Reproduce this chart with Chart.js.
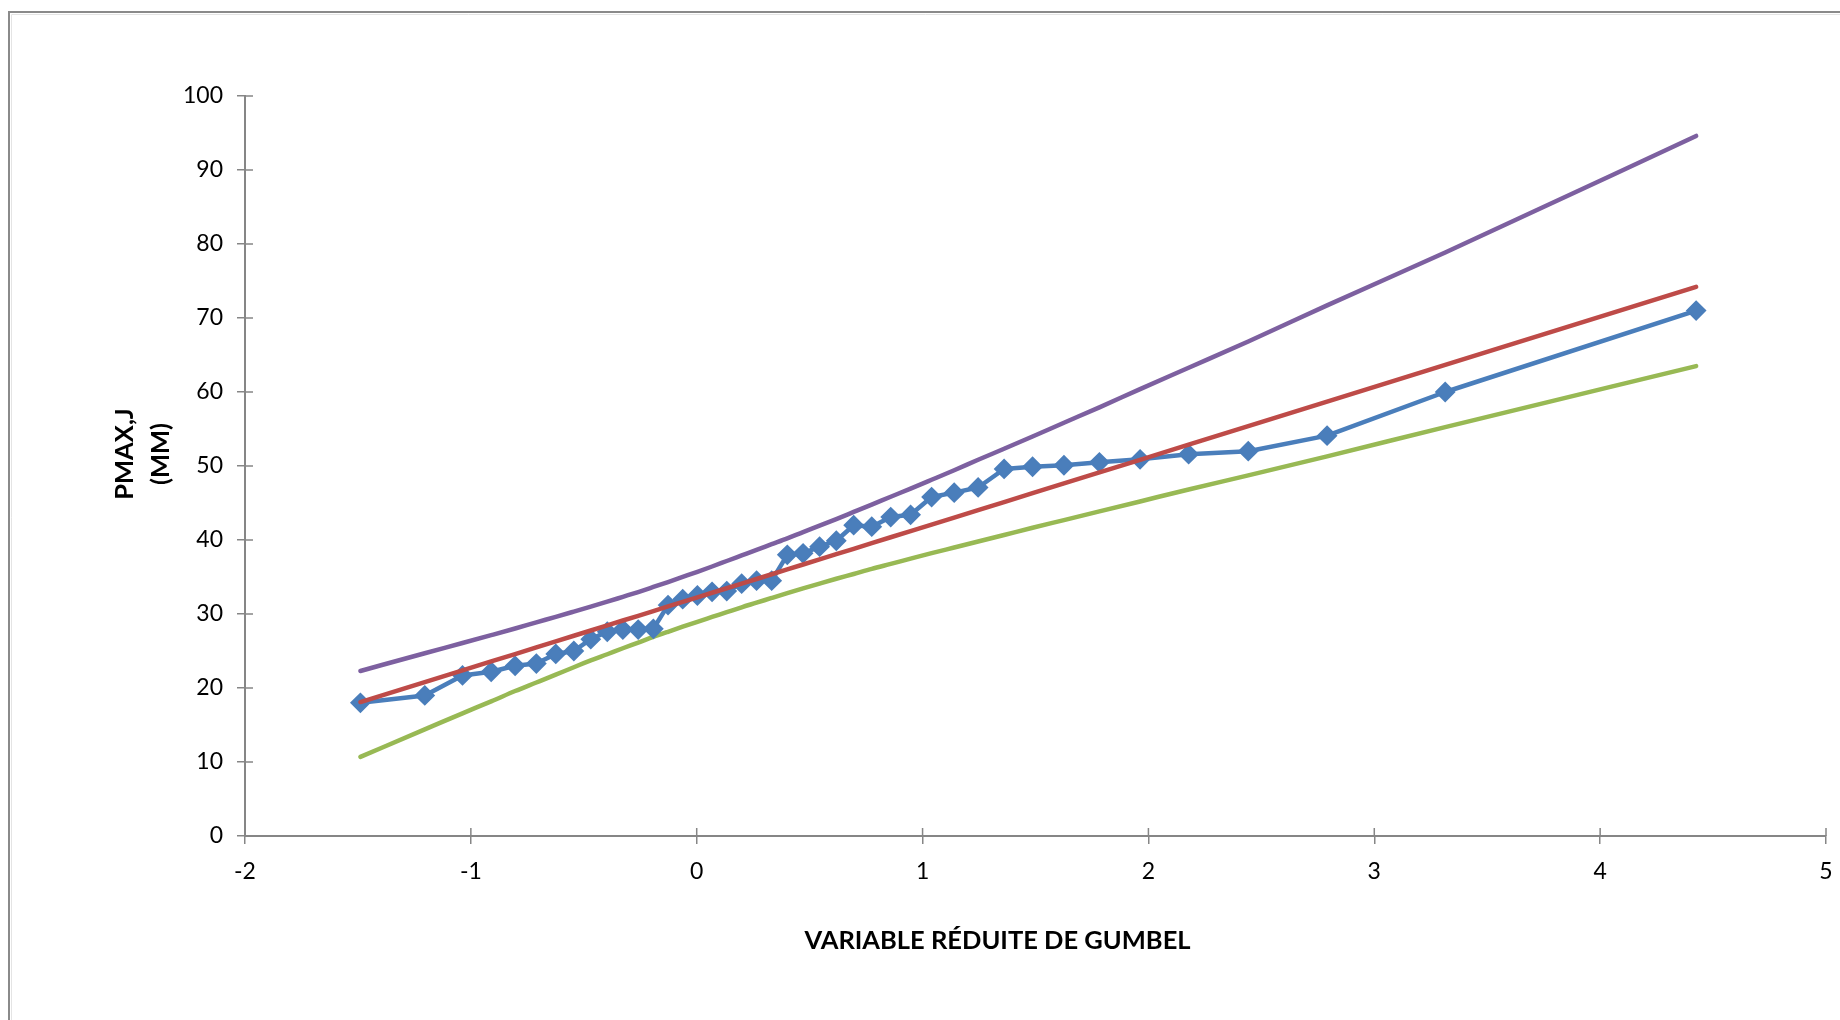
<!DOCTYPE html>
<html><head><meta charset="utf-8">
<script src="https://cdn.jsdelivr.net/npm/chart.js@4.4.1/dist/chart.umd.min.js"></script>
<style>html,body{margin:0;padding:0;background:#fff;} #wrap{width:1840px;height:1020px;position:relative;}</style>
</head><body><div id="wrap"><canvas id="c" width="1840" height="1020"></canvas></div>
<script>
// Gumbel reduced variable (x) of each ranked observation
const gumbelU = [-1.489,-1.204,-1.037,-0.910,-0.804,-0.710,-0.624,-0.544,-0.469,-0.396,-0.327,-0.259,-0.192,-0.127,-0.062,0.003,0.068,0.133,0.199,0.265,0.332,0.401,0.471,0.544,0.618,0.695,0.775,0.859,0.947,1.040,1.140,1.246,1.361,1.487,1.626,1.783,1.963,2.178,2.442,2.791,3.314,4.425];
// observed Pmax,j (mm)
const pmaxObserved = [18.0,19.0,21.7,22.2,23.0,23.3,24.6,25.0,26.6,27.6,27.9,27.9,28.0,31.2,32.0,32.5,33.0,33.1,34.1,34.5,34.5,38.0,38.2,39.1,39.9,42.0,41.8,43.1,43.4,45.8,46.4,47.1,49.6,49.9,50.1,50.5,50.9,51.6,52.0,54.1,60.0,71.0];
// Gumbel fitted line
const gumbelFit = [18.10,20.80,22.38,23.59,24.59,25.49,26.30,27.06,27.77,28.46,29.12,29.76,30.40,31.02,31.63,32.25,32.87,33.48,34.11,34.73,35.37,36.02,36.69,37.38,38.08,38.81,39.57,40.37,41.20,42.09,43.03,44.04,45.13,46.33,47.64,49.13,50.84,52.88,55.38,58.70,63.66,74.20];
// upper confidence bound
const upperBound = [22.30,24.70,26.08,27.14,28.04,28.87,29.62,30.33,31.00,31.66,32.32,32.97,33.65,34.32,35.01,35.70,36.42,37.16,37.91,38.66,39.43,40.22,41.07,41.93,42.83,43.79,44.79,45.85,46.95,48.14,49.43,50.84,52.33,53.98,55.84,57.93,60.39,63.28,66.83,71.70,78.86,94.60];
// lower confidence bound
const lowerBound = [10.70,14.40,16.58,18.19,19.59,20.74,21.80,22.81,23.72,24.56,25.37,26.13,26.90,27.60,28.28,28.95,29.60,30.25,30.91,31.53,32.17,32.82,33.46,34.11,34.76,35.41,36.10,36.77,37.48,38.22,38.98,39.79,40.68,41.66,42.69,43.86,45.21,46.83,48.73,51.30,55.26,63.50];
const xTickValues = [-2,-1,0,1,2,3,4,5];
const yTickValues = [0,10,20,30,40,50,60,70,80,90,100];
const xTitle = 'VARIABLE RÉDUITE DE GUMBEL';
const yTitle = ['PMAX,J','(MM)'];

const pts = ys => gumbelU.map((u,i)=>({x:u,y:ys[i]}));
const FONT = 'Lato, "Open Sans", sans-serif';
const AXIS = '#868686';

const extras = {
  id:'extras',
  beforeDraw(chart){
    const ctx = chart.ctx;
    ctx.save();
    ctx.strokeStyle = '#8a8a8a'; ctx.lineWidth = 2;
    ctx.beginPath(); ctx.moveTo(9, 1020); ctx.lineTo(9, 12); ctx.lineTo(1840, 12); ctx.stroke();
    ctx.strokeStyle = '#e4e4e4'; ctx.lineWidth = 1;
    ctx.beginPath(); ctx.moveTo(11.5, 1020); ctx.lineTo(11.5, 14.5); ctx.lineTo(1840, 14.5); ctx.stroke();
    ctx.restore();
  },
  afterDraw(chart){
    const ctx = chart.ctx, a = chart.chartArea;
    const xs = chart.scales.x, ys = chart.scales.y;
    ctx.save();
    ctx.strokeStyle = AXIS; ctx.lineWidth = 1.5;
    ctx.beginPath();
    xTickValues.forEach(v=>{ const px = xs.getPixelForValue(v); ctx.moveTo(px, a.bottom); ctx.lineTo(px, a.bottom-8); });
    yTickValues.forEach(v=>{ const py = ys.getPixelForValue(v); ctx.moveTo(a.left, py); ctx.lineTo(a.left+8, py); });
    ctx.stroke();
    ctx.fillStyle = '#000';
    ctx.font = 'bold 25.5px ' + FONT;
    ctx.textAlign = 'center'; ctx.textBaseline = 'middle';
    ctx.fillText(xTitle, (a.left+a.right)/2 - 38, a.bottom + 105);
    ctx.translate(143, (a.top+a.bottom)/2 - 12);
    ctx.rotate(-Math.PI/2);
    ctx.fillText(yTitle[0], 0, -18);
    ctx.fillText(yTitle[1], 0, 18);
    ctx.restore();
  }
};

new Chart(document.getElementById('c'), {
  type:'scatter',
  data:{datasets:[
    {label:'Ajustement', data:pts(gumbelFit), showLine:true, borderColor:'#BE4B48', borderWidth:4.5, pointRadius:0, borderCapStyle:'round', borderJoinStyle:'round', order:0},
    {label:'Pmax,j', data:pts(pmaxObserved), showLine:true, borderColor:'#4A7EBB', borderWidth:4.5, pointStyle:'rectRot', pointRadius:9, pointBorderWidth:2, pointBackgroundColor:'#4A7EBB', pointBorderColor:'#4A7EBB', borderCapStyle:'round', borderJoinStyle:'round', order:1},
    {label:'Borne inférieure', data:pts(lowerBound), showLine:true, borderColor:'#98B954', borderWidth:4.5, pointRadius:0, tension:0.4, cubicInterpolationMode:'monotone', borderCapStyle:'round', order:2},
    {label:'Borne supérieure', data:pts(upperBound), showLine:true, borderColor:'#7D60A0', borderWidth:4.5, pointRadius:0, tension:0.4, cubicInterpolationMode:'monotone', borderCapStyle:'round', order:3}
  ]},
  options:{
    responsive:false, animation:false, devicePixelRatio:1,
    layout:{padding:{left:0,right:14,top:96,bottom:0}},
    plugins:{legend:{display:false}, tooltip:{enabled:false}},
    scales:{
      x:{type:'linear', min:-2, max:5,
        afterBuildTicks: s => { s.ticks = xTickValues.map(v=>({value:v})); },
        afterFit: s => { s.height = 184; s.paddingRight = 0; s.paddingLeft = 0; },
        ticks:{font:{family:FONT,size:23}, color:'#000', padding:14},
        grid:{drawOnChartArea:false, drawTicks:true, tickLength:8, color:AXIS, lineWidth:1.5},
        border:{color:AXIS, width:2}},
      y:{type:'linear', min:0, max:100,
        afterBuildTicks: s => { s.ticks = yTickValues.map(v=>({value:v})); },
        afterFit: s => { s.width = 245; s.paddingTop = 0; s.paddingBottom = 0; },
        ticks:{font:{family:FONT,size:23}, color:'#000', padding:14},
        grid:{drawOnChartArea:false, drawTicks:true, tickLength:8, color:AXIS, lineWidth:1.5},
        border:{color:AXIS, width:2}}
    }
  },
  plugins:[extras]
});
</script></body></html>
